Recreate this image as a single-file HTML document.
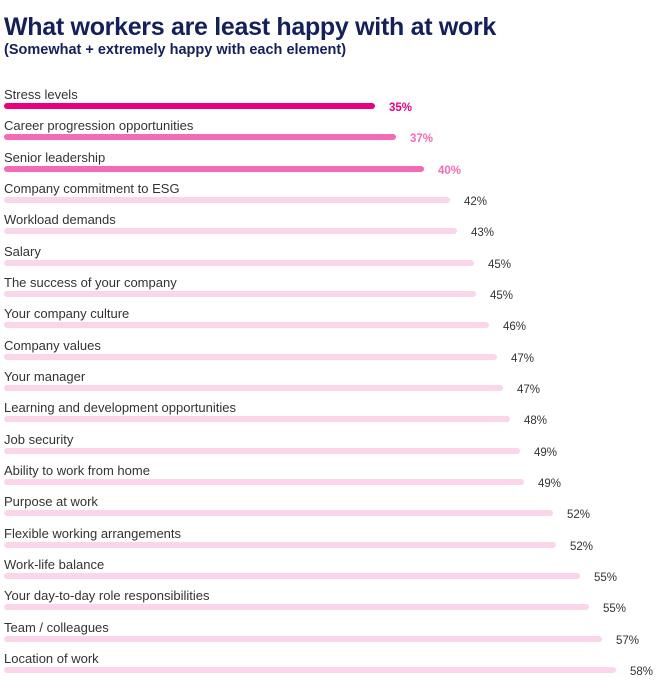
<!DOCTYPE html>
<html><head><meta charset="utf-8"><style>
body{margin:0;width:661px;height:680px;background:#fff;font-family:"Liberation Sans",sans-serif;position:relative;overflow:hidden}
.t{position:absolute;left:4px;top:13px;font-size:25px;font-weight:bold;color:#13205a;letter-spacing:-0.3px}
.s{position:absolute;left:4px;top:42px;font-size:14.5px;font-weight:bold;color:#13205a}
.l{position:absolute;left:4px;font-size:13px;color:#333;white-space:nowrap}
.b{position:absolute;left:4px;height:6px;border-radius:3px;background:#fbd6ea}
.v{position:absolute;font-size:11.5px;color:#333}
</style></head><body>
<div class="t">What workers are least happy with at work</div>
<div class="s">(Somewhat + extremely happy with each element)</div>
<div id="c"></div>
<script>
var d=[["Stress levels",375,"35%"],["Career progression opportunities",396,"37%"],["Senior leadership",424,"40%"],["Company commitment to ESG",450,"42%"],["Workload demands",457,"43%"],["Salary",474,"45%"],["The success of your company",476,"45%"],["Your company culture",489,"46%"],["Company values",497,"47%"],["Your manager",503,"47%"],["Learning and development opportunities",510,"48%"],["Job security",520,"49%"],["Ability to work from home",524,"49%"],["Purpose at work",553,"52%"],["Flexible working arrangements",556,"52%"],["Work-life balance",580,"55%"],["Your day-to-day role responsibilities",589,"55%"],["Team / colleagues",602,"57%"],["Location of work",616,"58%"]];
var h="";
d.forEach(function(r,i){var y=106+i*31.33;
var col=i==0?"#e8007f":i<3?"#f46bb5":"#fbd6ea";
var vc=i==0?"#e8007f":i<3?"#f46bb5":"#333";
var fw=i<3?"bold":"normal";
h+='<div class="l" style="top:'+(y-19)+'px">'+r[0]+'</div>';
h+='<div class="b" style="top:'+(y-3)+'px;width:'+(r[1]-4)+'px;background:'+col+'"></div>';
h+='<div class="v" style="top:'+(y-4)+'px;left:'+(r[1]+14)+'px;color:'+vc+';font-weight:'+fw+'">'+r[2]+'</div>';});
document.getElementById("c").innerHTML=h;
</script>
</body></html>
